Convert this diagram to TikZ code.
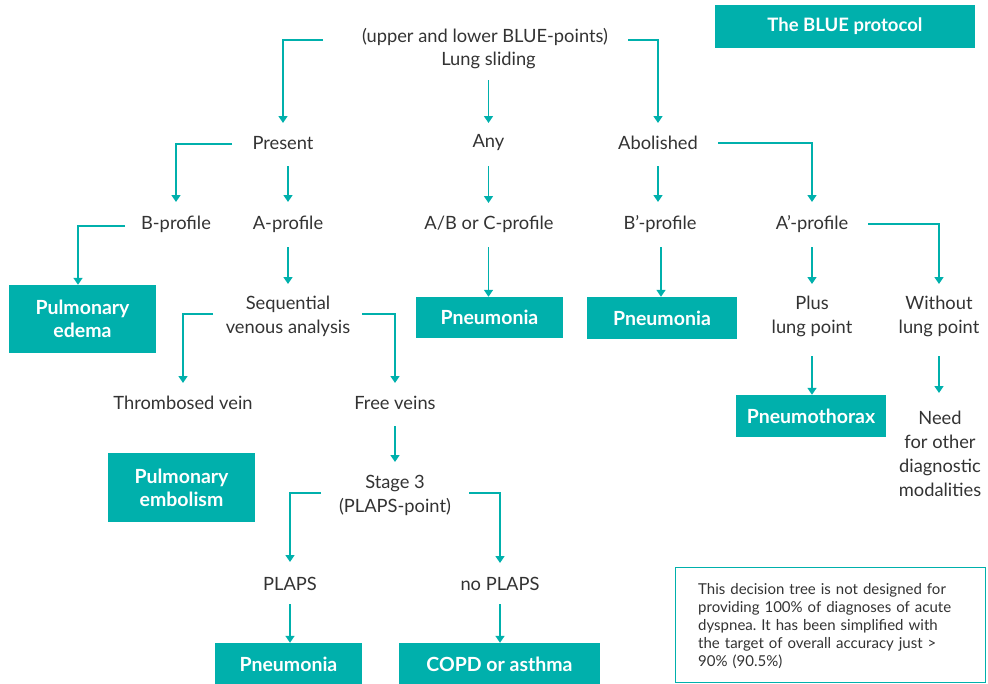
\documentclass[tikz,border=0pt]{standalone}
\usepackage{fontspec}
\setmainfont{Lato}
\usetikzlibrary{arrows.meta,calc}
\definecolor{teal1}{HTML}{00B0AC}
\definecolor{txtc}{HTML}{333333}
\begin{document}
\frenchspacing
\begin{tikzpicture}[x=1pt,y=-1pt,
  txt/.style={inner sep=0pt, align=center, text=txtc, font=\fontsize{18.3}{24}\selectfont},
  res/.style n args={2}{fill=teal1, text=white, inner sep=0pt, align=center,
    font=\fontsize{19.5}{23}\selectfont\bfseries, minimum width=#1pt, minimum height=#2pt},
  arr/.style={draw=teal1, line width=1.6pt, -{Triangle[width=9pt,length=7pt]}}]
\useasboundingbox (0,0) rectangle (988,683);

% title
\node[res={260}{43}, font=\fontsize{18.5}{22}\selectfont\bfseries] (title) at (845,26.5) {The BLUE protocol};

% text nodes
\node[txt] (top1) at (485,37) {(upper and lower BLUE-points)};
\node[txt] (top2) at (488.5,60) {Lung sliding};
\node[txt] (present) at (283,143) {Present};
\node[txt] (any) at (488.5,143) {Any};
\node[txt] (abolished) at (658,143) {Abolished};
\node[txt] (bprof) at (176,224) {B-profile};
\node[txt] (aprof) at (288,224) {A-profile};
\node[txt] (abc) at (489,224) {A/B or C-profile};
\node[txt] (bpprof) at (660,224) {B’-profile};
\node[txt] (approf) at (812,224) {A’-profile};
\node[txt] (seq) at (288,316) {Sequential\\venous analysis};
\node[txt] (plus) at (812,316) {Plus\\lung point};
\node[txt] (without) at (939,316) {Without\\lung point};
\node[txt] (thromb) at (183,403) {Thrombosed vein};
\node[txt] (free) at (395,403) {Free veins};
\node[txt] (need) at (940,454) {Need\\for other\\diagnostic\\modalities};
\node[txt] (stage) at (395,495) {Stage 3\\(PLAPS-point)};
\node[txt] (plaps) at (290,584) {PLAPS};
\node[txt] (noplaps) at (500,584) {no PLAPS};

% result boxes
\node[res={147}{68}] (pedema) at (82.5,319) {Pulmonary\\edema};
\node[res={147}{41}] (pneu1) at (489.5,317.5) {Pneumonia};
\node[res={150}{42}] (pneu2) at (662,318) {Pneumonia};
\node[res={150}{42}] (pthorax) at (811,416) {Pneumothorax};
\node[res={147}{69}] (pemb) at (181.5,487.5) {Pulmonary\\embolism};
\node[res={147}{42}] (pneu3) at (288.5,664) {Pneumonia};
\node[res={201}{42}] (copd) at (499.5,664) {COPD or asthma};

% note
\node[draw=teal1, line width=1pt, fill=white, minimum width=310pt, minimum height=115pt, inner sep=0pt] (notebox) at (830,624.5) {};
\node[anchor=north west, inner sep=0pt, text width=255pt, text=txtc,
  font=\fontsize{15}{18}\selectfont] (notetxt) at (698,583)
  {\noindent This decision tree is not designed for\linebreak
   providing 100\% of diagnoses of acute\linebreak
   dyspnea. It has been simplified with\linebreak
   the target of overall accuracy just >\linebreak
   90\% (90.5\%)};

% connectors
\draw[arr] ($(top1)+(-162,3)$) -| ($(present)+(0,-20)$);
\draw[arr] ($(top2)+(0,20)$) -- ($(any)+(0,-20)$);
\draw[arr] ($(top1)+(143,3)$) -| ($(abolished)+(0,-20)$);
\draw[arr] ($(present)+(-51,1)$) -| ($(bprof)+(0,-22)$);
\draw[arr] ($(present -| aprof)+(0,23)$) -- ($(aprof)+(0,-22)$);
\draw[arr] ($(bprof)+(-51,2)$) -| ($(pedema.north)+(-4.5,0)$);
\draw[arr] ($(aprof)+(0,23)$) -- ($(seq)+(0,-32)$);
\draw[arr] ($(seq)+(-75,-2)$) -| ($(thromb)+(0,-20)$);
\draw[arr] ($(seq)+(74,-2)$) -| ($(free)+(0,-20)$);
\draw[arr] ($(free)+(0,23)$) -- ($(stage)+(0,-33)$);
\draw[arr] ($(stage)+(-74,-2)$) -| ($(plaps)+(0,-22)$);
\draw[arr] ($(stage)+(74,-2)$) -| ($(noplaps)+(0,-21)$);
\draw[arr] ($(plaps)+(0,20)$) -- (plaps |- pneu3.north);
\draw[arr] ($(noplaps)+(0,20)$) -- (noplaps |- copd.north);
\draw[arr] ($(any)+(0,23)$) -- ($(abc -| any)+(0,-21)$);
\draw[arr] ($(abc -| any)+(0,23)$) -- (any |- pneu1.north);
\draw[arr] ($(abolished)+(0,23)$) -- ($(bpprof -| abolished)+(0,-22)$);
\draw[arr] ($(bpprof)+(1,23)$) -- ($(bpprof |- pneu2.north)+(1,0)$);
\draw[arr] ($(abolished)+(60,0)$) -| ($(approf)+(0,-22)$);
\draw[arr] ($(approf)+(0,23)$) -- ($(plus)+(0,-32)$);
\draw[arr] ($(approf)+(56,0)$) -| ($(without)+(0,-32)$);
\draw[arr] ($(plus)+(0,40)$) -- (plus |- pthorax.north);
\draw[arr] ($(need)+(-1,-98)$) -- ($(need)+(-1,-61)$);
\end{tikzpicture}
\end{document}
